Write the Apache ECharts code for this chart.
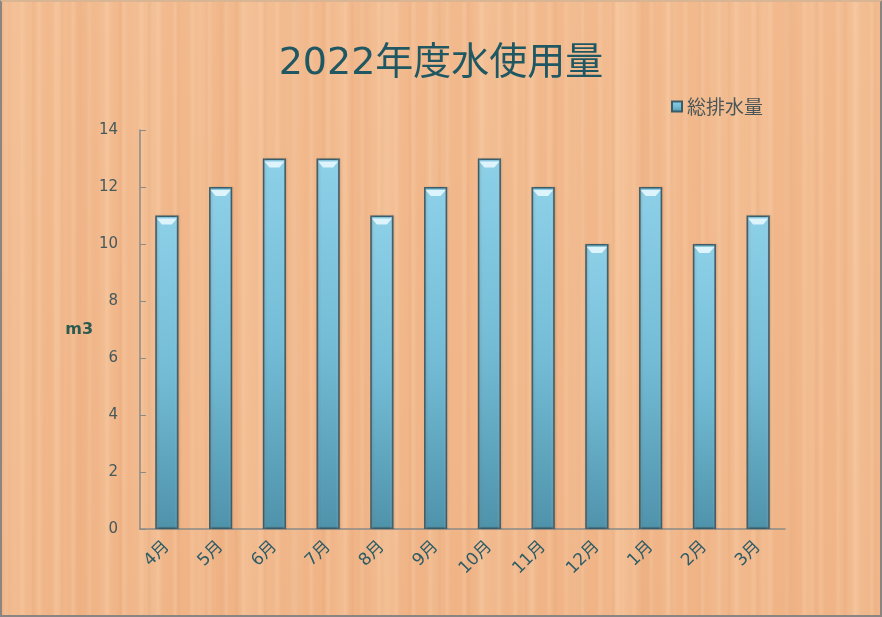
<!DOCTYPE html>
<html>
<head>
<meta charset="utf-8">
<script src="https://cdn.jsdelivr.net/npm/echarts@6/dist/echarts.min.js"></script>
<style>
  html, body { margin: 0; padding: 0; }
  #frame {
    position: relative;
    width: 882px; height: 617px;
    box-sizing: border-box;
    border: 2px solid #8a8580;
    border-top-color: #d9b593;
    background-color: #f0b588;
    background-image:
      repeating-linear-gradient(90deg, rgba(255,222,190,0.0) 0px, rgba(255,222,190,0.22) 3px, rgba(255,222,190,0.0) 7px, rgba(255,222,190,0.0) 17px),
      repeating-linear-gradient(90deg, rgba(200,125,75,0.0) 0px, rgba(200,125,75,0.09) 2px, rgba(200,125,75,0.0) 5px, rgba(200,125,75,0.0) 29px),
      repeating-linear-gradient(90deg, rgba(255,230,200,0.0) 0px, rgba(255,230,200,0.14) 10px, rgba(255,230,200,0.0) 21px, rgba(255,230,200,0.0) 47px),
      repeating-linear-gradient(90deg, rgba(205,135,85,0.0) 0px, rgba(205,135,85,0.08) 7px, rgba(205,135,85,0.0) 15px, rgba(205,135,85,0.0) 71px),
      repeating-linear-gradient(90deg, rgba(255,228,195,0.0) 0px, rgba(255,228,195,0.12) 22px, rgba(255,228,195,0.0) 48px, rgba(255,228,195,0.0) 119px),
      linear-gradient(180deg, rgba(255,215,180,0.12), rgba(235,165,115,0.08));
  }
  #chart { position: absolute; left: -2px; top: -2px; width: 882px; height: 617px; }
</style>
</head>
<body>
<div id="frame"><div id="chart"></div></div>
<script>
// Monthly water usage, fiscal year 2022 (April to March)
const months = ['4月', '5月', '6月', '7月', '8月', '9月', '10月', '11月', '12月', '1月', '2月', '3月'];
const drainage = [11, 12, 13, 13, 11, 12, 13, 12, 10, 12, 10, 11];
const yTicks = { min: 0, max: 14, interval: 2 };
const titleText = '2022年度水使用量';
const seriesName = '総排水量';
const yAxisName = 'm3';

const chart = echarts.init(document.getElementById('chart'), null, { renderer: 'canvas' });

const textColor = '#2d5c66';
const barWidth = 23;

chart.setOption({
  backgroundColor: 'transparent',
  title: {
    text: titleText,
    left: 'center',
    top: 40,
    textStyle: {
      fontFamily: 'DejaVu Sans, Noto Sans CJK JP',
      fontSize: 38,
      fontWeight: 'normal',
      color: '#1f5862'
    }
  },
  legend: {
    data: [seriesName],
    left: 666,
    top: 92,
    itemWidth: 10,
    itemHeight: 10,
    itemGap: 6,
    icon: 'rect',
    textStyle: {
      fontFamily: 'Noto Sans CJK JP',
      fontSize: 19,
      color: '#4a5658'
    }
  },
  grid: { left: 140, right: 97, top: 130, bottom: 88 },
  xAxis: {
    type: 'category',
    data: months,
    boundaryGap: true,
    axisLine: { lineStyle: { color: '#8a8a86', width: 1.5 } },
    axisTick: { inside: true, length: 4, alignWithLabel: false, lineStyle: { color: '#8a8a86' } },
    axisLabel: {
      rotate: 45,
      margin: 15,
      fontFamily: 'DejaVu Sans, Noto Sans CJK JP',
      fontSize: 17,
      color: textColor
    }
  },
  yAxis: {
    type: 'value',
    min: yTicks.min,
    max: yTicks.max,
    interval: yTicks.interval,
    name: yAxisName,
    nameLocation: 'middle',
    nameRotate: 0,
    nameGap: 46,
    nameTextStyle: { fontFamily: 'DejaVu Sans', fontSize: 16, fontWeight: 'bold', color: '#2a5a50' },
    axisLine: { show: true, lineStyle: { color: '#8a8a86', width: 1.5 } },
    axisTick: { show: true, inside: true, length: 6, lineStyle: { color: '#8a8a86' } },
    splitLine: { show: false },
    axisLabel: {
      margin: 22,
      fontFamily: 'DejaVu Sans',
      fontSize: 15,
      color: '#45595a'
    }
  },
  series: [
    {
      name: seriesName,
      type: 'bar',
      data: drainage,
      barWidth: barWidth,
      itemStyle: {
        color: new echarts.graphic.LinearGradient(0, 0, 0, 1, [
          { offset: 0, color: '#8dd0e8' },
          { offset: 0.5, color: '#74bcd6' },
          { offset: 1, color: '#4f93ab' }
        ]),
        borderColor: '#3a5c68',
        borderWidth: 1.5,
        shadowColor: 'rgba(60,40,20,0.2)',
        shadowBlur: 2,
        shadowOffsetX: 1
      },
      z: 2
    },
    {
      // side shading to give the bars a rounded look
      name: 'shade',
      type: 'bar',
      data: drainage,
      barWidth: barWidth,
      barGap: '-100%',
      silent: true,
      itemStyle: {
        color: new echarts.graphic.LinearGradient(0, 0, 1, 0, [
          { offset: 0, color: 'rgba(30,60,75,0.35)' },
          { offset: 0.15, color: 'rgba(255,255,255,0.0)' },
          { offset: 0.85, color: 'rgba(255,255,255,0.0)' },
          { offset: 1, color: 'rgba(30,60,75,0.35)' }
        ])
      },
      z: 3
    },
    {
      // bevel highlight on top of each bar
      name: 'bevel',
      type: 'pictorialBar',
      data: drainage,
      symbol: 'path://M0,0 L10,0 L7.5,3 L2.5,3 Z',
      symbolSize: [barWidth - 3, 6],
      symbolPosition: 'end',
      symbolOffset: [0, '50%'],
      silent: true,
      itemStyle: { color: 'rgba(235,250,255,0.85)' },
      z: 4
    }
  ]
});
</script>
</body>
</html>
